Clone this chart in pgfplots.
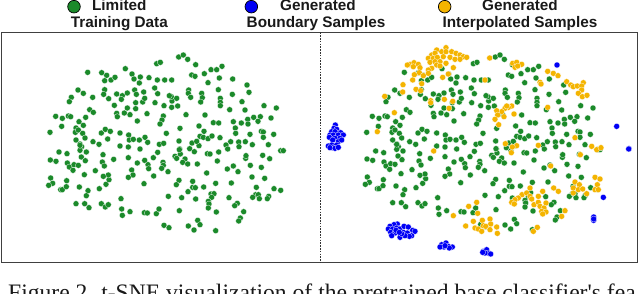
\documentclass[border=0pt]{standalone}
\usepackage{fontspec}
\setmainfont{Liberation Sans}
\newfontfamily\capfont{Liberation Serif}
\usepackage{pgfplots}
\usepackage{pgfplotstable}
\pgfplotsset{compat=1.18}
\definecolor{grn}{HTML}{1B8A2A}
\definecolor{org}{HTML}{F4B400}
\definecolor{blu}{HTML}{0000F5}
\tikzset{tx/.style={font=\fontsize{15.3}{15.3}\selectfont\bfseries,text=black!90,anchor=center,inner sep=0pt}}
\pgfplotstableread[row sep=\\,header=false]{
150 397\\185 379\\167 349\\187 355\\205 348\\212 350\\257 352\\237 365\\250 376\\228 384\\226 397\\235 390\\248 400\\255 414\\228 420\\240 432\\245 440\\279 425\\297 433\\304 399\\316 388\\331 394\\323 417\\360 399\\386 405\\388 420\\400 418\\418 420\\435 412\\443 427\\360 438\\385 441\\420 447\\478 433\\491 430\\499 400\\540 385\\537 423\\539 447\\576 429\\597 437\\590 424\\600 409\\610 412\\624 416\\636 408\\660 413\\597 378\\612 394\\640 368\\656 369\\615 345\\558 344\\490 348\\486 360\\480 372\\412 363\\441 341\\390 344\\373 339\\350 340\\352 350\\343 316\\382 324\\407 326\\407 308\\428 306\\434 295\\465 308\\492 317\\515 322\\533 318\\516 303\\514 290\\530 295\\508 287\\473 281\\464 264\\431 276\\404 270\\409 283\\382 279\\367 287\\350 282\\364 298\\326 296\\278 292\\234 270\\250 280\\214 292\\208 305\\269 329\\280 337\\314 269\\311 283\\263 217\\305 218\\320 226\\314 242\\333 240\\345 232\\376 206\\396 222\\402 237\\421 231\\418 249\\447 233\\472 240\\494 240\\515 240\\470 191\\481 187\\536 171\\550 165\\563 178\\587 194\\613 221\\575 225\\585 229\\633 209\\650 209\\666 199\\658 234\\624 248\\698 237\\741 255\\747 277\\655 269\\697 283\\726 305\\735 330\\792 317\\829 324\\689 329\\661 295\\661 307\\661 317\\605 280\\607 293\\602 306\\566 270\\565 280\\572 292\\781 350\\761 352\\743 358\\744 372\\700 365\\724 369\\813 354\\774 364\\706 384\\707 400\\784 394\\790 396\\790 412\\750 403\\821 403\\805 434\\757 434\\736 425\\716 426\\717 440\\692 425\\678 435\\683 447\\
}\greenTop
\pgfplotstableread[row sep=\\,header=false]{
177 27\\201 32\\151 51\\168 55\\240 22\\240 7\\259 27\\244 42\\256 53\\202 60\\208 72\\222 65\\235 67\\219 82\\253 95\\286 83\\309 35\\341 49\\307 57\\313 69\\395 81\\399 96\\385 103\\385 44\\412 60\\434 52\\444 65\\446 77\\460 44\\473 28\\461 99\\489 58\\490 67\\485 76\\504 86\\525 40\\530 46\\541 33\\538 20\\569 17\\583 26\\555 48\\548 58\\563 63\\592 63\\622 32\\630 33\\656 27\\652 54\\620 90\\682 78\\700 69\\714 86\\737 46\\738 38\\751 67\\788 37\\809 47\\784 73\\756 102\\794 106\\842 23\\850 23\\694 120\\647 121\\611 132\\578 115\\578 133\\586 134\\537 112\\529 125\\564 146\\545 164\\505 160\\587 168\\633 153\\642 152\\635 163\\625 175\\627 183\\625 195\\649 207\\687 164\\712 181\\704 188\\731 206\\721 225\\716 234\\769 133\\767 155\\775 155\\758 163\\778 167\\806 160\\802 167\\822 137\\842 142\\152 105\\158 121\\146 127\\182 140\\187 140\\200 113\\199 131\\238 132\\264 143\\259 158\\298 137\\318 124\\327 110\\325 96\\310 100\\228 182\\254 182\\267 194\\304 182\\316 192\\325 185\\363 167\\365 198\\367 217\\390 206\\432 122\\433 209\\442 210\\469 212\\477 198\\538 203\\492 247\\507 254\\565 249\\582 261\\593 232\\600 245\\647 263\\
}\greenBot
\pgfplotstableread[row sep=\\,header=false]{
378 143\\350 150\\365 155\\335 165\\345 160\\378 155\\395 155\\408 160\\420 165\\430 170\\440 172\\325 175\\340 175\\352 172\\370 170\\390 172\\405 178\\420 178\\330 187\\345 185\\360 185\\378 190\\350 195\\360 198\\270 193\\282 188\\295 193\\280 200\\300 203\\262 195\\335 205\\325 210\\325 220\\298 218\\283 224\\278 240\\305 251\\249 254\\248 276\\288 268\\194 289\\223 338\\172 395\\310 227\\368 232\\385 222\\400 203\\509 174\\578 190\\590 187\\605 193\\585 202\\593 198\\683 214\\700 220\\714 227\\495 240\\660 247\\663 252\\740 245\\752 255\\760 260\\772 258\\790 248\\785 258\\785 270\\775 280\\787 290\\801 286\\373 298\\398 304\\332 302\\332 308\\387 325\\683 322\\575 318\\565 322\\555 325\\545 335\\530 332\\533 345\\552 350\\525 358\\536 374\\582 342\\560 318\\302 272\\765 413\\
}\orangeTop
\pgfplotstableread[row sep=\\,header=false]{
341 24\\556 2\\574 29\\590 8\\577 12\\655 7\\815 10\\830 20\\843 14\\781 35\\692 69\\446 190\\470 178\\400 218\\473 211\\437 249\\460 235\\487 232\\510 228\\512 243\\465 255\\475 258\\490 248\\485 265\\497 250\\510 260\\530 252\\532 271\\640 265\\652 253\\630 135\\606 155\\595 165\\585 170\\575 178\\583 183\\620 150\\630 160\\635 168\\655 160\\668 145\\642 185\\655 178\\660 190\\678 180\\672 195\\665 205\\678 207\\668 213\\735 203\\725 220\\701 135\\715 145\\765 117\\778 125\\760 135\\775 140\\788 138\\800 152\\760 150\\825 103\\840 108\\832 125\\825 140\\835 140\\
}\orangeBot
\pgfplotstableread[row sep=\\,header=false]{
46 375\\42 385\\50 388\\35 395\\45 395\\62 398\\30 405\\40 405\\55 405\\70 405\\28 412\\45 415\\60 415\\38 420\\55 425\\65 420\\25 438\\35 435\\50 435\\38 443\\30 443\\45 445\\55 442\\711 195\\890 379\\927 446\\
}\blueTop
\pgfplotstableread[row sep=\\,header=false]{
926 18\\850 163\\821 222\\821 232\\821 228\\232 243\\222 245\\210 250\\205 258\\218 258\\230 255\\240 258\\252 250\\265 252\\278 262\\212 268\\225 270\\240 283\\250 268\\262 270\\275 278\\285 265\\268 280\\255 278\\228 262\\245 272\\238 268\\215 278\\365 305\\378 300\\372 312\\360 312\\385 310\\397 312\\388 315\\375 308\\490 325\\500 320\\505 330\\512 333\\495 330\\488 328\\
}\blueBot
\begin{document}
\begin{tikzpicture}
\useasboundingbox (0,0) rectangle (640pt,293pt);
\clip (0,0) rectangle (640pt,293pt);
\begin{axis}[
  at={(0,0)},anchor=south west,
  width=640pt,height=293pt,scale only axis,
  xmin=0,xmax=1920,ymin=0,ymax=879,y dir=reverse,
  axis lines=none,clip=false,
  ptg/.style={only marks,mark=*,mark size=3pt,mark options={fill=#1,draw=white,line width=0.25pt}},
  leg/.style={only marks,mark=*,mark size=6.3pt,mark options={fill=#1,draw=black,line width=0.7pt}},
]
% frame
\addplot[line width=0.9pt,color=black!75] coordinates {(5,97)(1911,97)(1911,786)(5,786)(5,97)};
\addplot[line width=0.9pt,color=black!80,dash pattern=on 1.6pt off 1.2pt] coordinates {(962,97)(962,786)};
% left panel
\addplot[ptg=grn] table[x index=0,y index=1] {\greenTop};
\addplot[ptg=grn] table[x index=0,y expr=\thisrowno{1}+429] {\greenBot};
% right panel
\addplot[ptg=grn] table[x expr=\thisrowno{0}+950,y index=1] {\greenTop};
\addplot[ptg=grn] table[x expr=\thisrowno{0}+950,y expr=\thisrowno{1}+429-3] {\greenBot};
\addplot[ptg=org] table[x expr=\thisrowno{0}+960,y index=1] {\orangeTop};
\addplot[ptg=org] table[x expr=\thisrowno{0}+960,y expr=\thisrowno{1}+429] {\orangeBot};
\addplot[ptg=blu] table[x expr=\thisrowno{0}+960,y index=1] {\blueTop};
\addplot[ptg=blu] table[x expr=\thisrowno{0}+960,y expr=\thisrowno{1}+429] {\blueBot};
% legend
\addplot[leg=grn] coordinates {(222,20)};
\addplot[leg=blu] coordinates {(754,20)};
\addplot[leg=org] coordinates {(1334,20)};
\node[tx] at (axis cs:358,15) {Limited};
\node[tx] at (axis cs:358,72) {Training Data};
\node[tx] at (axis cs:954,15) {Generated};
\node[tx] at (axis cs:948,72) {Boundary Samples};
\node[tx] at (axis cs:1560,15) {Generated};
\node[tx] at (axis cs:1560,72) {Interpolated Samples};
\node[font=\capfont\fontsize{23.6}{23.6}\selectfont,text=black!90,anchor=base west,inner sep=0pt] at (axis cs:24,900) {Figure 2. t-SNE visualization of the pretrained base classifier's fea};
\end{axis}
\end{tikzpicture}
\end{document}
